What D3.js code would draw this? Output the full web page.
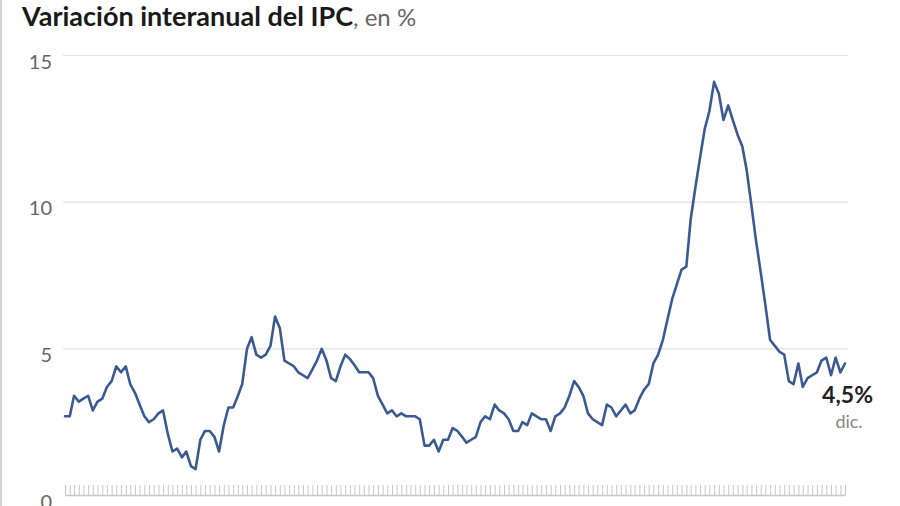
<!DOCTYPE html>
<html><head><meta charset="utf-8">
<script src="https://cdn.jsdelivr.net/npm/d3@7"></script>
<style>
html,body{margin:0;padding:0;background:#fff;}
svg{display:block;}
</style></head>
<body>
<svg id="chart" width="900" height="506"></svg>
<script>
const startYear = 2011;
const monthLabels = ["ene","feb","mar","abr","may","jun","jul","ago","sep","oct","nov","dic"];
const v2011 = [2.7, 2.7, 3.4, 3.2, 3.3, 3.4, 2.9, 3.2, 3.3, 3.7, 3.9, 4.4];
const v2012 = [4.2, 4.4, 3.8, 3.5, 3.1, 2.7, 2.5, 2.6, 2.8, 2.9, 2.1, 1.5];
const v2013 = [1.6, 1.3, 1.5, 1.0, 0.9, 1.9, 2.2, 2.2, 2.0, 1.5, 2.4, 3.0];
const v2014 = [3.0, 3.4, 3.8, 5.0, 5.4, 4.8, 4.7, 4.8, 5.1, 6.1, 5.7, 4.6];
const v2015 = [4.5, 4.4, 4.2, 4.1, 4.0, 4.3, 4.6, 5.0, 4.6, 4.0, 3.9, 4.4];
const v2016 = [4.8, 4.65, 4.45, 4.2, 4.2, 4.2, 4.0, 3.4, 3.1, 2.8, 2.9, 2.7];
const v2017 = [2.8, 2.7, 2.7, 2.7, 2.6, 1.7, 1.7, 1.9, 1.5, 1.9, 1.9, 2.3];
const v2018 = [2.2, 2.0, 1.8, 1.9, 2.0, 2.5, 2.7, 2.6, 3.1, 2.9, 2.8, 2.6];
const v2019 = [2.2, 2.2, 2.5, 2.4, 2.8, 2.7, 2.6, 2.6, 2.2, 2.7, 2.8, 3.0];
const v2020 = [3.4, 3.9, 3.7, 3.4, 2.8, 2.6, 2.5, 2.4, 3.1, 3.0, 2.7, 2.9];
const v2021 = [3.1, 2.8, 2.9, 3.3, 3.6, 3.8, 4.5, 4.8, 5.3, 6.0, 6.7, 7.2];
const v2022 = [7.7, 7.8, 9.4, 10.5, 11.5, 12.5, 13.1, 14.1, 13.7, 12.8, 13.3, 12.8];
const v2023 = [12.3, 11.9, 11.1, 9.9, 8.7, 7.6, 6.5, 5.3, 5.1, 4.9, 4.8, 3.9];
const v2024 = [3.8, 4.5, 3.7, 4.0, 4.1, 4.2, 4.6, 4.7, 4.1, 4.7, 4.2, 4.5];
const yTicks = [0, 5, 10, 15];
const titleBold = "Variación interanual del IPC";
const titleRest = ", en %";
const endValueLabel = "4,5%";
const endMonthLabel = "dic.";

const yearly = [v2011,v2012,v2013,v2014,v2015,v2016,v2017,v2018,v2019,v2020,v2021,v2022,v2023,v2024];
const data = [];
yearly.forEach((arr, yi) => arr.forEach((v, m) => data.push({date: new Date(startYear + yi, m, 1), value: v, label: monthLabels[m]})));

const svg = d3.select("#chart");
const font = "Lato, 'Source Sans Pro', 'Noto Sans', sans-serif";

// left border line
svg.append("rect").attr("x",0).attr("y",0).attr("width",2).attr("height",506).attr("fill","#d4d4d4");

const x = d3.scaleTime()
  .domain(d3.extent(data, d => d.date))
  .range([65, 845]);
const y = d3.scaleLinear().domain([0, 15]).range([495.5, 55.5]);

// gridlines
svg.append("g").selectAll("line").data(yTicks.filter(t => t > 0)).join("line")
  .attr("x1", 63).attr("x2", 848)
  .attr("y1", d => y(d)).attr("y2", d => y(d))
  .attr("stroke", "#e2e2e2").attr("stroke-width", 1.2);

// y labels
svg.append("g").selectAll("text").data(yTicks).join("text")
  .attr("x", 52).attr("y", d => y(d) + 13)
  .attr("text-anchor", "end")
  .attr("font-family", font).attr("font-size", 20)
  .attr("fill", "#666")
  .text(d => d);

// x axis: monthly ticks upward
const xAxis = d3.axisTop(x)
  .tickValues(data.map(d => d.date))
  .tickSize(10).tickSizeOuter(0).tickFormat("");
const gx = svg.append("g").attr("transform", "translate(0,495)").call(xAxis);
gx.select(".domain").attr("stroke", "#c8c8c8").attr("stroke-width", 1.5);
gx.selectAll(".tick line").attr("stroke", "#c8c8c8").attr("stroke-width", 1);

// line
const line = d3.line().x(d => x(d.date)).y(d => y(d.value));
svg.append("path").datum(data)
  .attr("d", line)
  .attr("fill", "none")
  .attr("stroke", "#3b5a91")
  .attr("stroke-width", 2.6)
  .attr("stroke-linejoin", "round")
  .attr("stroke-linecap", "round");

// end labels
const last = data[data.length - 1];
svg.append("text")
  .attr("x", x(last.date) + 28).attr("y", y(last.value) + 39)
  .attr("text-anchor", "end")
  .attr("font-family", font).attr("font-weight", 700).attr("font-size", 23)
  .attr("fill", "#222").text(endValueLabel);
svg.append("text")
  .attr("x", x(last.date) + 4).attr("y", y(last.value) + 64)
  .attr("text-anchor", "middle")
  .attr("font-family", font).attr("font-size", 18)
  .attr("fill", "#888").text(endMonthLabel);

// title
const title = svg.append("text").attr("x", 22).attr("y", 26)
  .attr("font-family", font).attr("font-size", 27);
title.append("tspan").attr("font-weight", 700).attr("fill", "#1a1a1a").text(titleBold);
title.append("tspan").attr("font-weight", 400).attr("fill", "#666").attr("font-size", 24).text(titleRest);
</script>
</body></html>
